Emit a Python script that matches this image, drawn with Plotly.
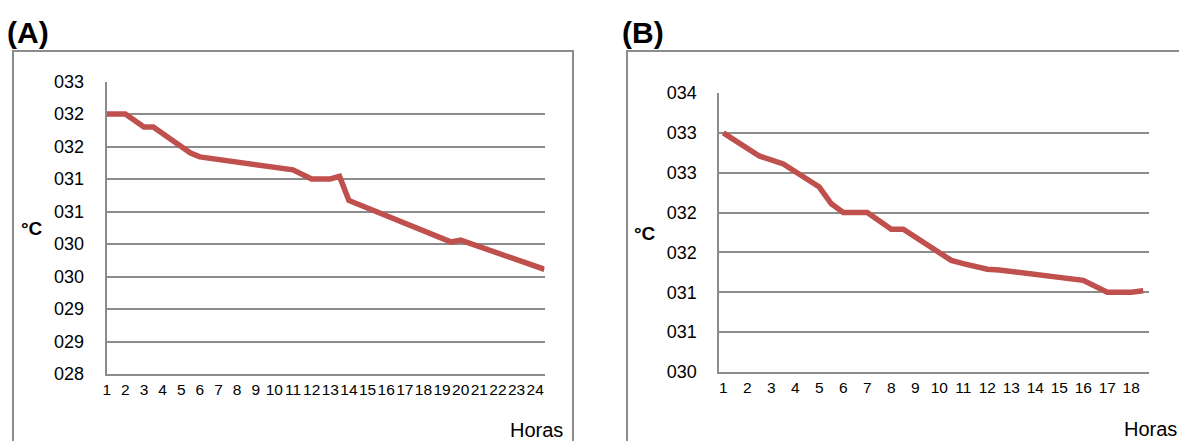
import plotly.graph_objects as go

# ---------------- data ----------------
# Panel A (hours, °C) – points at the visible breaks of the curve
hours_a = [1, 2, 3, 3.5, 5.5, 6, 11, 12, 13, 13.5, 14, 19.5, 20, 24.5]
temp_a = [32.00, 32.00, 31.80, 31.80, 31.40, 31.34, 31.14, 31.00, 31.00, 31.04,
          30.67, 30.03, 30.06, 29.61]

# Panel B
hours_b = [1, 2.5, 3.5, 5, 5.5, 6, 7, 8, 8.5, 10, 10.5, 11, 12, 12.5, 16, 17, 18, 18.5]
temp_b = [33.00, 32.71, 32.61, 32.32, 32.11, 32.00, 32.00, 31.79, 31.79, 31.50,
          31.40, 31.36, 31.29, 31.28, 31.15, 31.00, 31.00, 31.02]

x_ticks_a = list(range(1, 25))
x_labels_a = [str(i) for i in x_ticks_a]
x_ticks_b = list(range(1, 19))
x_labels_b = [str(i) for i in x_ticks_b]

y_ticks_a = [28.0, 28.5, 29.0, 29.5, 30.0, 30.5, 31.0, 31.5, 32.0, 32.5]
y_labels_a = ["028", "029", "029", "030", "030", "031", "031", "032", "032", "033"]
y_ticks_b = [30.0, 30.5, 31.0, 31.5, 32.0, 32.5, 33.0, 33.5]
y_labels_b = ["030", "031", "031", "032", "032", "033", "033", "034"]

# ---------------- layout helpers ----------------
W, H = 1179, 441
def px(x):
    return x / W
def py(y):
    return 1 - y / H

LINE_COLOR = "#C0504D"
GRID = "#8C8C8C"
FONT = "Liberation Sans, Arial, sans-serif"

fig = go.Figure()
fig.add_trace(go.Scatter(x=hours_a, y=temp_a, mode="lines",
                         line=dict(color=LINE_COLOR, width=5.5), xaxis="x", yaxis="y",
                         showlegend=False, hoverinfo="x+y"))
fig.add_trace(go.Scatter(x=hours_b, y=temp_b, mode="lines",
                         line=dict(color=LINE_COLOR, width=5.5), xaxis="x2", yaxis="y2",
                         showlegend=False, hoverinfo="x+y"))

common_x = dict(showgrid=False, zeroline=False, showline=True, linecolor=GRID, linewidth=2,
                ticks="", tickfont=dict(family=FONT, size=15.5, color="#000"), tickangle=0,
                ticklabelstandoff=0, fixedrange=True, automargin=False)
common_y = dict(showgrid=True, gridcolor=GRID, gridwidth=1.5, zeroline=False,
                showline=True, linecolor=GRID, linewidth=2, ticks="",
                tickfont=dict(family=FONT, size=18, color="#000"),
                ticklabelstandoff=17, fixedrange=True, automargin=False)

fig.update_layout(
    width=W, height=H, autosize=False,
    margin=dict(l=0, r=0, t=0, b=0, pad=0, autoexpand=False),
    paper_bgcolor="white", plot_bgcolor="white",
    xaxis=dict(domain=[px(106.7), px(544.5)], range=[1, 24.5], tickmode="array",
               tickvals=x_ticks_a, ticktext=x_labels_a, anchor="y", **common_x),
    yaxis=dict(domain=[py(374), py(81.5)], range=[28, 32.5], tickmode="array",
               tickvals=y_ticks_a, ticktext=y_labels_a, anchor="x", **common_y),
    xaxis2=dict(domain=[px(719.3), px(1149)], range=[0.833, 18.74], tickmode="array",
                tickvals=x_ticks_b, ticktext=x_labels_b, anchor="y2", **common_x),
    yaxis2=dict(domain=[py(372), py(93)], range=[30, 33.5], tickmode="array",
                tickvals=y_ticks_b, ticktext=y_labels_b, anchor="x2", **common_y),
)

# chart frames
fig.add_shape(type="rect", xref="paper", yref="paper",
              x0=px(13), x1=px(573), y0=py(460), y1=py(51),
              line=dict(color="#8C8C8C", width=2), layer="below")
fig.add_shape(type="rect", xref="paper", yref="paper",
              x0=px(627), x1=px(1200), y0=py(460), y1=py(51),
              line=dict(color="#8C8C8C", width=2), layer="below")

def label(text, x, y, size, bold=False, xanchor="left"):
    fig.add_annotation(text=f"<b>{text}</b>" if bold else text, xref="paper", yref="paper",
                       x=px(x), y=py(y), xanchor=xanchor, yanchor="middle", showarrow=False,
                       font=dict(family=FONT, size=size, color="#000"))

label("(A)", 5, 32, 30, bold=True)
label("(B)", 620, 32, 30, bold=True)
label("°C", 19, 229, 19, bold=True)
label("°C", 632, 233, 19, bold=True)
label("Horas", 565, 430, 20, xanchor="right")
label("Horas", 1179, 429, 20, xanchor="right")

fig.write_html("out.html", config={"responsive": False, "displayModeBar": False},
               post_script="document.body.style.margin='0';document.body.style.overflow='hidden';")
